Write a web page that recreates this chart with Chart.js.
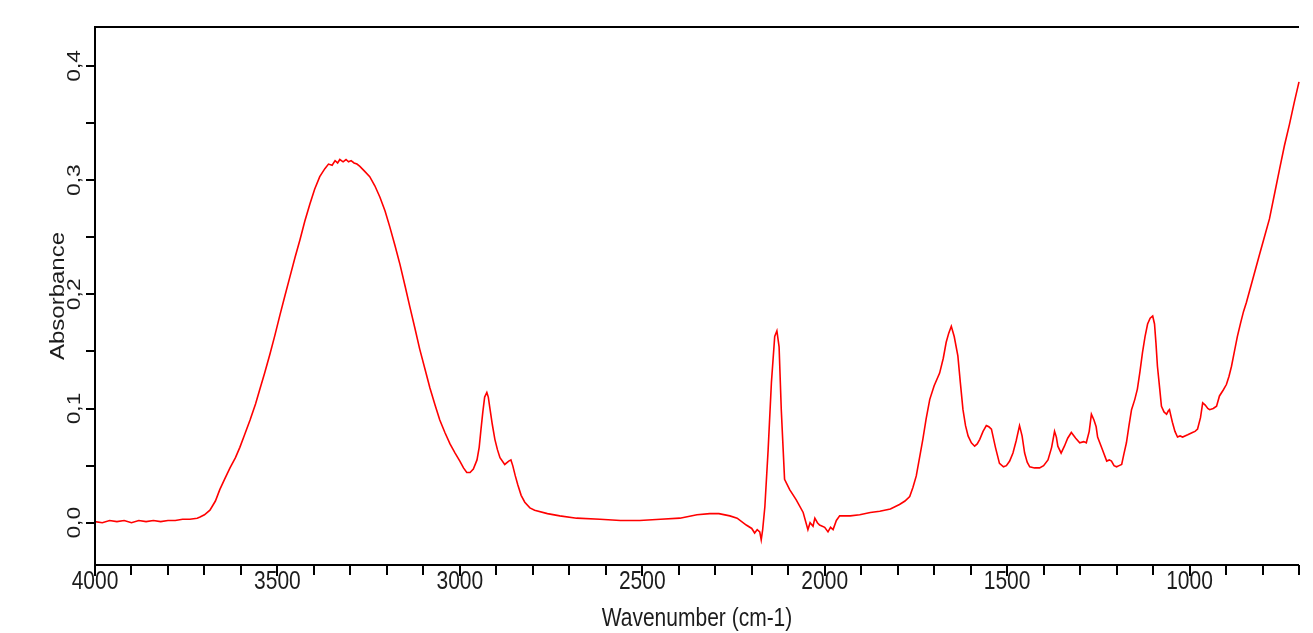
<!DOCTYPE html>
<html><head><meta charset="utf-8">
<script src="https://cdn.jsdelivr.net/npm/chart.js@4.4.1/dist/chart.umd.min.js"></script>
<style>html,body{margin:0;padding:0;background:#fff;overflow:hidden}#wrap{width:1313px;height:633px}</style>
</head><body><div id="wrap"><canvas id="c" width="1313" height="633"></canvas></div>
<script>
const WAVENUMBER = [4000,3980,3960,3940,3920,3900,3880,3860,3840,3820,3800,3780,3760,3740,3720,3712,3700,3685,3670,3658,3645,3630,3615,3603,3590,3575,3560,3548,3535,3521,3507,3493,3480,3466,3452,3438,3425,3411,3398,3384,3370,3360,3350,3342,3335,3329,3320,3312,3305,3298,3290,3282,3274,3262,3247,3233,3219,3205,3192,3178,3164,3150,3137,3123,3110,3096,3082,3068,3055,3041,3027,3013,3000,2990,2981,2972,2963,2953,2947,2942,2937,2932,2926,2922,2918,2911,2904,2897,2890,2877,2866,2860,2855,2848,2841,2832,2822,2808,2795,2760,2726,2680,2616,2560,2507,2450,2397,2350,2315,2290,2260,2240,2215,2200,2192,2185,2178,2174,2170,2164,2155,2146,2137,2131,2125,2119,2110,2096,2078,2059,2046,2040,2032,2027,2020,2014,2000,1991,1984,1977,1968,1959,1930,1904,1875,1849,1820,1795,1780,1767,1758,1749,1740,1731,1722,1712,1700,1685,1675,1667,1660,1653,1645,1635,1628,1621,1614,1607,1598,1589,1582,1575,1566,1557,1550,1543,1532,1521,1510,1502,1493,1484,1475,1466,1459,1452,1445,1438,1425,1411,1400,1388,1378,1370,1365,1361,1352,1343,1334,1324,1312,1301,1290,1283,1275,1269,1262,1256,1252,1240,1227,1220,1214,1207,1200,1193,1186,1180,1173,1166,1159,1150,1143,1136,1129,1122,1115,1108,1101,1096,1092,1088,1082,1077,1070,1063,1058,1055,1050,1047,1040,1033,1026,1019,1005,992,985,978,970,964,957,950,945,935,926,918,908,899,892,885,877,869,860,852,844,826,808,795,781,767,753,740,726,713,700];
const ABSORBANCE = [0.001,0.000,0.002,0.001,0.002,0.000,0.002,0.001,0.002,0.001,0.002,0.002,0.003,0.003,0.004,0.005,0.007,0.011,0.019,0.029,0.038,0.048,0.057,0.066,0.077,0.090,0.104,0.117,0.131,0.147,0.164,0.182,0.198,0.215,0.232,0.248,0.264,0.279,0.292,0.303,0.310,0.314,0.313,0.317,0.315,0.318,0.316,0.318,0.316,0.317,0.315,0.314,0.312,0.308,0.303,0.295,0.285,0.273,0.259,0.243,0.226,0.207,0.189,0.170,0.152,0.135,0.118,0.103,0.090,0.079,0.069,0.061,0.054,0.048,0.044,0.044,0.047,0.055,0.066,0.082,0.097,0.110,0.114,0.110,0.101,0.086,0.073,0.064,0.057,0.051,0.054,0.055,0.050,0.041,0.033,0.024,0.018,0.013,0.011,0.008,0.006,0.004,0.003,0.002,0.002,0.003,0.004,0.007,0.008,0.008,0.006,0.004,-0.002,-0.005,-0.009,-0.006,-0.008,-0.015,-0.006,0.014,0.064,0.123,0.163,0.168,0.154,0.099,0.038,0.029,0.020,0.009,-0.006,0.000,-0.003,0.004,0.000,-0.002,-0.004,-0.008,-0.004,-0.006,0.002,0.006,0.006,0.007,0.009,0.010,0.012,0.016,0.019,0.023,0.031,0.041,0.057,0.073,0.091,0.108,0.120,0.131,0.144,0.158,0.166,0.172,0.163,0.146,0.122,0.099,0.085,0.076,0.070,0.067,0.069,0.073,0.080,0.085,0.084,0.082,0.066,0.052,0.049,0.050,0.054,0.061,0.072,0.085,0.076,0.061,0.053,0.049,0.048,0.048,0.050,0.055,0.066,0.080,0.075,0.067,0.061,0.067,0.074,0.079,0.074,0.070,0.071,0.070,0.080,0.095,0.090,0.084,0.075,0.065,0.054,0.055,0.054,0.050,0.049,0.050,0.051,0.060,0.070,0.085,0.099,0.108,0.117,0.132,0.149,0.163,0.174,0.179,0.181,0.174,0.157,0.137,0.118,0.102,0.097,0.095,0.098,0.099,0.092,0.088,0.080,0.075,0.076,0.075,0.077,0.079,0.080,0.082,0.092,0.105,0.103,0.100,0.099,0.100,0.102,0.111,0.116,0.121,0.128,0.137,0.150,0.163,0.175,0.185,0.193,0.214,0.235,0.250,0.266,0.288,0.310,0.330,0.349,0.368,0.386];
const X_MIN = 700, X_MAX = 4000;
const Y_MIN = -0.037, Y_MAX = 0.434;
const X_TICKS_MAJOR = [4000,3500,3000,2500,2000,1500,1000];
const X_TICKS_MINOR = [3900,3800,3700,3600,3400,3300,3200,3100,2900,2800,2700,2600,2400,2300,2200,2100,1900,1800,1700,1600,1400,1300,1200,1100,900,800,700];
const Y_TICKS_MAJOR = [0.0,0.1,0.2,0.3,0.4];
const Y_TICK_LABELS = ['0,0','0,1','0,2','0,3','0,4'];
const Y_TICKS_MINOR = [0.05,0.15,0.25,0.35];
const X_TITLE = 'Wavenumber (cm-1)';
const Y_TITLE = 'Absorbance';

const TEXT_COLOR = '#1c1c1c';
const FONT = '"Liberation Sans", Arial, sans-serif';
const STRETCH = 1.2;

const framePlugin = {
  id: 'frame',
  afterDraw(chart) {
    const ctx = chart.ctx, a = chart.chartArea;
    const xs = chart.scales.x, ys = chart.scales.y;
    ctx.save();
    ctx.strokeStyle = '#000';
    ctx.lineWidth = 2;
    ctx.beginPath();
    ctx.moveTo(a.left, a.top); ctx.lineTo(a.right, a.top);
    ctx.moveTo(a.left, a.top - 1); ctx.lineTo(a.left, a.bottom + 1);
    ctx.moveTo(a.left - 1, a.bottom); ctx.lineTo(a.right, a.bottom);
    X_TICKS_MAJOR.forEach(v => { const p = Math.round(xs.getPixelForValue(v)); ctx.moveTo(p, a.bottom); ctx.lineTo(p, a.bottom + 11); });
    X_TICKS_MINOR.forEach(v => { const p = Math.round(xs.getPixelForValue(v)); ctx.moveTo(p, a.bottom); ctx.lineTo(p, a.bottom + 10); });
    Y_TICKS_MAJOR.concat(Y_TICKS_MINOR).forEach(v => { const p = Math.round(ys.getPixelForValue(v)); ctx.moveTo(a.left, p); ctx.lineTo(a.left - 9, p); });
    ctx.stroke();

    ctx.fillStyle = TEXT_COLOR;
    ctx.textAlign = 'center';
    ctx.textBaseline = 'middle';
    ctx.font = '21px ' + FONT;
    X_TICKS_MAJOR.forEach(v => {
      const p = xs.getPixelForValue(v);
      ctx.save(); ctx.translate(p, a.bottom + 17); ctx.scale(1, STRETCH); ctx.fillText(String(v), 0, 0); ctx.restore();
    });
    ctx.save(); ctx.translate((a.left + a.right) / 2, a.bottom + 54); ctx.scale(1, STRETCH); ctx.fillText(X_TITLE, 0, 0); ctx.restore();
    ctx.font = '19px ' + FONT;
    Y_TICKS_MAJOR.forEach((v, i) => {
      const p = ys.getPixelForValue(v);
      ctx.save(); ctx.translate(a.left - 20, p); ctx.scale(1, STRETCH); ctx.rotate(-Math.PI / 2); ctx.fillText(Y_TICK_LABELS[i], 0, 0); ctx.restore();
    });
    ctx.font = '20px ' + FONT;
    ctx.save(); ctx.translate(a.left - 37, (a.top + a.bottom) / 2); ctx.scale(1, STRETCH); ctx.rotate(-Math.PI / 2); ctx.fillText(Y_TITLE, 0, 0); ctx.restore();
    ctx.restore();
  }
};

new Chart(document.getElementById('c'), {
  type: 'scatter',
  data: {
    datasets: [{
      data: WAVENUMBER.map((w, i) => ({ x: w, y: ABSORBANCE[i] })),
      showLine: true,
      borderColor: '#ff0000',
      backgroundColor: '#ff0000',
      borderWidth: 1.6,
      pointRadius: 0,
      tension: 0,
      clip: 2
    }]
  },
  options: {
    responsive: false,
    animation: false,
    devicePixelRatio: 1,
    layout: { padding: { left: 95, top: 27, right: 14, bottom: 68 } },
    plugins: { legend: { display: false }, tooltip: { enabled: false } },
    scales: {
      x: { type: 'linear', reverse: true, min: X_MIN, max: X_MAX, display: false },
      y: { type: 'linear', min: Y_MIN, max: Y_MAX, display: false }
    }
  },
  plugins: [framePlugin]
});
</script>
</body></html>
